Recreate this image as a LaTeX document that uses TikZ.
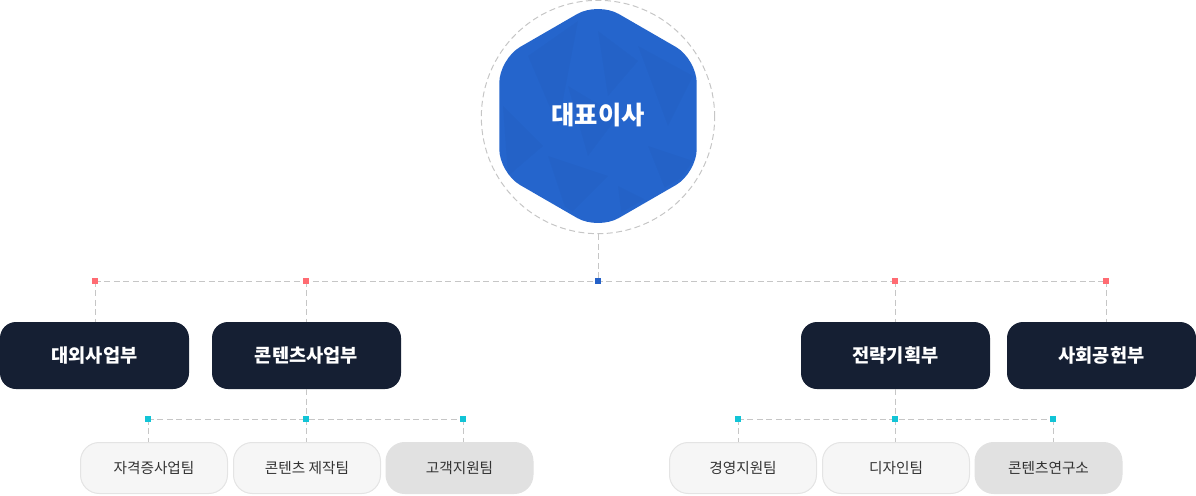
\documentclass[tikz,border=0pt]{standalone}
\usepackage{fontspec}
\newfontfamily\kr{Noto Sans CJK KR}
\definecolor{navy}{HTML}{151F33}
\definecolor{hexblue}{HTML}{2565CC}
\definecolor{pinkdot}{HTML}{FF6B72}
\definecolor{cyandot}{HTML}{12C4D6}
\definecolor{bluedot}{HTML}{2461C8}
\definecolor{linegray}{HTML}{C6C6C6}
\definecolor{teamfill}{HTML}{F6F6F6}
\definecolor{teamline}{HTML}{E4E4E4}
\definecolor{teamshade}{HTML}{E1E1E1}
\definecolor{textgray}{HTML}{333333}
\tikzset{link/.style={draw=linegray, line width=0.75pt, dash pattern=on 4.5pt off 2.6pt},
    dept/.style={fill=navy, rounded corners=12pt, minimum width=141.75pt,
        minimum height=50.25pt, text=white, font=\kr\bfseries\fontsize{14}{17}\selectfont},
    team/.style={fill=teamfill, draw=teamline, line width=0.75pt, rounded corners=14pt,
        minimum width=110.25pt, minimum height=38.25pt, text=textgray,
        font=\kr\fontsize{11}{13}\selectfont},
    teamshaded/.style={team, fill=teamshade, draw=teamshade},
    dot/.style={inner sep=0pt, minimum size=4.6pt, fill=#1},
    }

\begin{document}
\begin{tikzpicture}[x=0.75pt,y=-0.75pt]
	\useasboundingbox (0,0) rectangle (1196,496);
	% top: ring and hexagon
	\node[circle, draw=linegray, line width=0.75pt, dash pattern=on 4.5pt off 2.6pt,
		minimum size=175pt, inner sep=0pt] (ring) at (598,117) {};
	\begin{scope}[shift={(598,116)}]
		\fill[hexblue, rounded corners=18pt] (90:114) \foreach \a in {150,210,270,330,390} { -- (\a:114) } -- cycle;
		\clip (90:110) \foreach \a in {150,210,270,330,390} { -- (\a:110) } -- cycle;
		\foreach \tri in {{(-70,-60) -- (-20,-95) -- (-40,10)},
			{(0,-85) -- (40,-55) -- (10,-20)},
			{(40,-70) -- (95,-40) -- (70,10)},
			{(-95,-10) -- (-55,30) -- (-90,60)},
			{(-50,40) -- (10,60) -- (-30,100)},
			{(50,30) -- (95,45) -- (70,80)},
			{(20,70) -- (60,90) -- (25,110)},
			{(-30,-30) -- (20,0) -- (-10,40)}}
			\fill[black, opacity=0.025] \tri -- cycle;
	\end{scope}
	\node[text=white, font=\kr\bfseries\fontsize{19}{23}\selectfont] (ceo) at (598,115) {대표이사};
	% departments
	\node[dept] (outer)   at (94.5,355.5)  {대외사업부};
	\node[dept] (content) at (306.5,355.5) {콘텐츠사업부};
	\node[dept] (plan)    at (895.5,355.5) {전략기획부};
	\node[dept] (social)  at (1101.5,355.5) {사회공헌부};
	% teams
	\node[team]       (cert)   at (154,468)    {자격증사업팀};
	\node[team]       (make)   at (307,468)    {콘텐츠 제작팀};
	\node[teamshaded] (care)   at (459.5,468)  {고객지원팀};
	\node[team]       (manage) at (743,468)    {경영지원팀};
	\node[team]       (design) at (896,468)    {디자인팀};
	\node[teamshaded] (lab)    at (1048.5,468) {콘텐츠연구소};
	% branch points
	\coordinate (hub) at (598,281);
	\coordinate (p1) at (95,281);
	\coordinate (p2) at (306,281);
	\coordinate (p3) at (895,281);
	\coordinate (p4) at (1106,281);
	\coordinate (c1) at (148,419);
	\coordinate (c2) at (306,419);
	\coordinate (c3) at (463,419);
	\coordinate (s1) at (738,419);
	\coordinate (s2) at (895,419);
	\coordinate (s3) at (1053,419);
	% links
	\draw[link] (ring.south) -- (hub);
	\draw[link] (p1) -- (p4);
	\foreach \p/\d in {p1/outer, p2/content, p3/plan, p4/social}
		\draw[link] (\p) -- (\p |- \d.north);
	\draw[link] (c2 |- content.south) -- (c2);
	\draw[link] (s2 |- plan.south) -- (s2);
	\draw[link] (c1) -- (c3);
	\draw[link] (s1) -- (s3);
	\foreach \p/\t in {c1/cert, c2/make, c3/care, s1/manage, s2/design, s3/lab}
		\draw[link] (\p) -- (\p |- \t.north);
	% markers
	\node[dot=bluedot] at (hub) {};
	\foreach \p in {p1,p2,p3,p4}
		\node[dot=pinkdot] at (\p) {};
	\foreach \p in {c1,c2,c3,s1,s2,s3}
		\node[dot=cyandot] at (\p) {};
\end{tikzpicture}
\end{document}
